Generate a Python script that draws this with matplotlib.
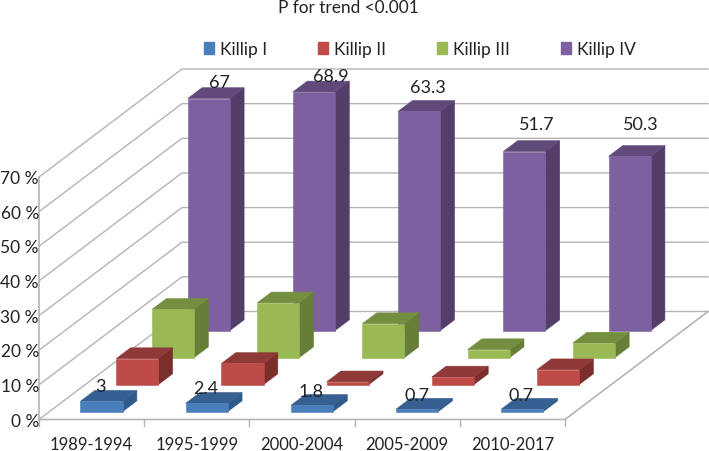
import numpy as np
import matplotlib
matplotlib.use('Agg')
import matplotlib.pyplot as plt
from matplotlib.patches import Polygon, Patch

plt.rcParams['font.family'] = ['Lato', 'DejaVu Sans']

periods = ['1989-1994', '1995-1999', '2000-2004', '2005-2009', '2010-2017']
series_names = ['Killip I', 'Killip II', 'Killip III', 'Killip IV']
killip_1 = [3, 2.4, 1.8, 0.7, 0.7]
killip_2 = [7.5, 6.1, 0.8, 2.2, 4.3]
killip_3 = [13.9, 15.8, 9.8, 2.3, 4.2]
killip_4 = [67, 68.9, 63.3, 51.7, 50.3]
y_ticks = [0, 10, 20, 30, 40, 50, 60, 70]

# labels only on the front and back rows, nudged by hand (pixels)
offsets_1 = [(0, 15), (0, 15), (0, 14), (1, 14), (0, 14)]
offsets_4 = [(12, 16), (18, 16), (9, 24), (13, 27), (12, 32)]

# front, top, side
colors = [('#4a7ebb', '#376092', '#2f5a8a'),
          ('#be4b48', '#8f3a38', '#7a2f2d'),
          ('#98b954', '#748e40', '#667e38'),
          ('#7d60a0', '#604a7b', '#533d69')]
grid_color = '#b4b4b4'

# oblique projection: one unit of depth in category / percent units
px_x = 105.2
px_y = 3.464
depth_x = 143 / px_x
depth_y = 108 / px_y
bar_w = 0.4
bar_d = 0.1


def proj(x, d, v):
    return x + d * depth_x, v + d * depth_y


fig = plt.figure(figsize=(7.09, 4.52), dpi=100)
ax = fig.add_axes([0, 0, 1, 1])
ax.set_xlim(-39 / px_x, (709 - 39) / px_x)
ax.set_ylim((420.5 - 452) / px_y, 420.5 / px_y)
ax.axis('off')

# walls
for v in y_ticks:
    xs, ys = zip(proj(0, 0, v), proj(0, 1, v), proj(5, 1, v))
    ax.plot(xs, ys, color=grid_color, lw=1.0, zorder=1)
    ax.text(0.0, v - 0.3, '%d %%' % v, ha='right', va='center', fontsize=12.5, color='#222222')

# floor and axes
xs, ys = zip(proj(0, 0, 0), proj(5, 0, 0), proj(5, 1, 0))
ax.plot(xs, ys, color=grid_color, lw=1.2, zorder=1)
ax.plot([0, 0], [0, 70], color=grid_color, lw=1.2, zorder=1)
for i in range(6):
    ax.plot([i, i], [0, -6 / px_y], color=grid_color, lw=1.0, zorder=1)
for i, p in enumerate(periods):
    ax.text(i + 0.5, -24.8 / px_y, p, ha='center', va='center', fontsize=12, color='#222222')


def bar(x0, row, v, cols):
    d0 = (row + 0.5) / 4 - bar_d / 2 - 0.002
    d1 = d0 + bar_d
    x0 = x0 + (1 - bar_w) / 2 - 0.005
    x1 = x0 + bar_w
    front = [proj(x0, d0, 0), proj(x1, d0, 0), proj(x1, d0, v), proj(x0, d0, v)]
    top = [proj(x0, d0, v), proj(x1, d0, v), proj(x1, d1, v), proj(x0, d1, v)]
    side = [proj(x1, d0, 0), proj(x1, d1, 0), proj(x1, d1, v), proj(x1, d0, v)]
    for pts, c in zip((side, top, front), (cols[2], cols[1], cols[0])):
        ax.add_patch(Polygon(pts, closed=True, fc=c, ec=c, lw=0.4, zorder=3 + 4 - row))


rows = [killip_1, killip_2, killip_3, killip_4]
for row, vals in enumerate(rows):
    for i, v in enumerate(vals):
        bar(i, row, v, colors[row])


def labels(row, vals, offsets):
    for i, v in enumerate(vals):
        x = i + 0.485
        d = (row + 0.5) / 4 - bar_d / 2
        px, py = proj(x, d, v)
        ax.annotate(str(v), (px, py), xytext=offsets[i], textcoords='offset pixels',
                    ha='center', va='center', fontsize=13, color='#222222', zorder=10)


labels(0, killip_1, offsets_1)
labels(3, killip_4, offsets_4)

fig.text(348 / 709, 1 - 8 / 452, 'P for trend <0.001', ha='center', va='center', fontsize=12.4, color='#222222')

handles = [Patch(fc=c[0], ec=c[0]) for c in colors]
fig.legend(handles, series_names, ncol=4, loc='center', bbox_to_anchor=(420 / 709, 1 - 50 / 452),
           frameon=False, fontsize=12.5, handlelength=0.58, handleheight=0.62,
           handletextpad=0.35, columnspacing=2.92, labelcolor='#222222')

fig.savefig('out.png', dpi=100)
